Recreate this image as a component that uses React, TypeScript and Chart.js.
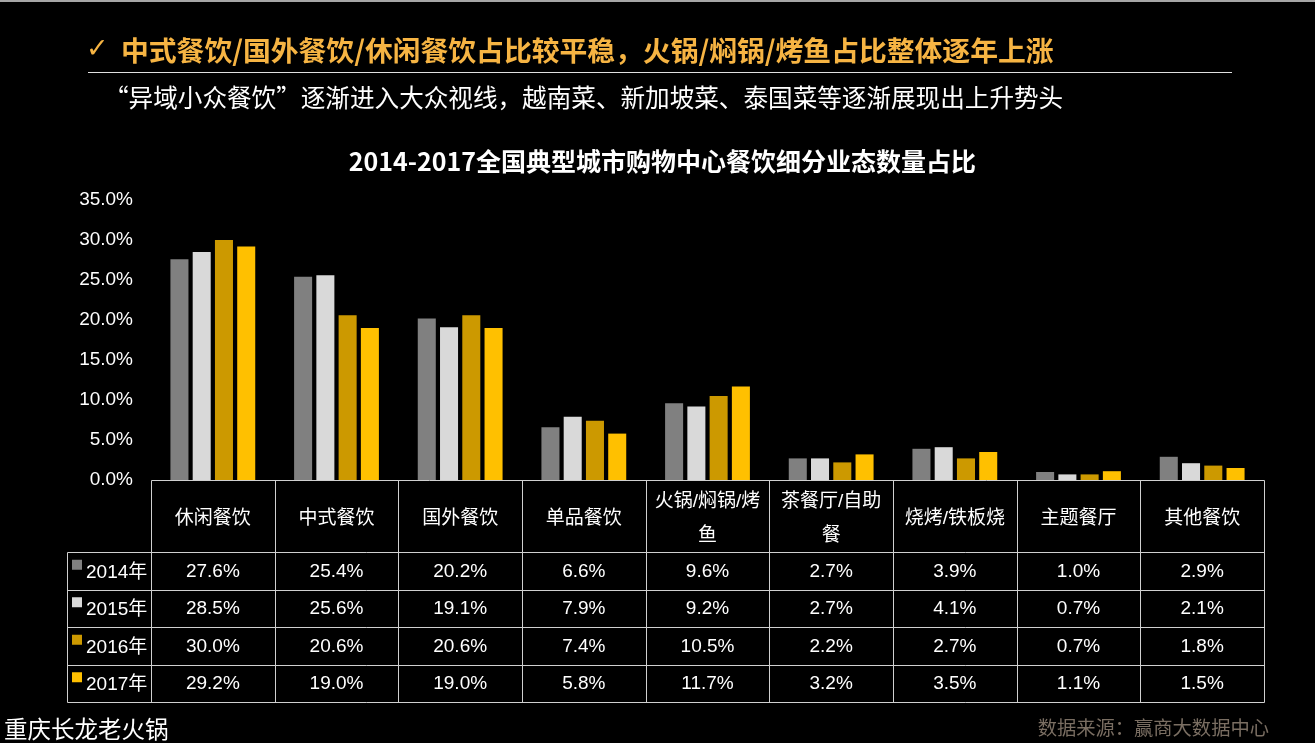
import { useEffect, useRef } from "react";
import { Chart, registerables } from "chart.js";

Chart.register(...registerables);

const categories = ["休闲餐饮", "中式餐饮", "国外餐饮", "单品餐饮", "火锅/焖锅/烤鱼", "茶餐厅/自助餐", "烧烤/铁板烧", "主题餐厅", "其他餐饮"];
const headerLines = [["休闲餐饮"], ["中式餐饮"], ["国外餐饮"], ["单品餐饮"], ["火锅/焖锅/烤", "鱼"], ["茶餐厅/自助", "餐"], ["烧烤/铁板烧"], ["主题餐厅"], ["其他餐饮"]];
const years = ["2014年", "2015年", "2016年", "2017年"];
const v2014 = [27.6, 25.4, 20.2, 6.6, 9.6, 2.7, 3.9, 1.0, 2.9];
const v2015 = [28.5, 25.6, 19.1, 7.9, 9.2, 2.7, 4.1, 0.7, 2.1];
const v2016 = [30.0, 20.6, 20.6, 7.4, 10.5, 2.2, 2.7, 0.7, 1.8];
const v2017 = [29.2, 19.0, 19.0, 5.8, 11.7, 3.2, 3.5, 1.1, 1.5];
const seriesValues = [v2014, v2015, v2016, v2017];
const colors = ["#808080", "#D9D9D9", "#CC9900", "#FFC000"];
const yMax = 35;
const yStep = 5;

const headline = "中式餐饮/国外餐饮/休闲餐饮占比较平稳，火锅/焖锅/烤鱼占比整体逐年上涨";
const subtitle = "“异域小众餐饮”逐渐进入大众视线，越南菜、新加坡菜、泰国菜等逐渐展现出上升势头";
const chartTitle = "2014-2017全国典型城市购物中心餐饮细分业态数量占比";
const footerLeft = "重庆长龙老火锅";
const footerRight = "数据来源：赢商大数据中心";

const FONT = '"Liberation Sans", Arial, "Noto Sans CJK SC", sans-serif';

const tablePlugin = {
  id: "dataTable",
  afterDraw(chart: any) {
    const ctx = chart.ctx as CanvasRenderingContext2D;
    const xs = chart.scales.x;
    const { left, right, bottom } = chart.chartArea;
    const n = categories.length;
    const w = (right - left) / n;
    const headerH = 72;
    const rowH = 37.5;
    const legendLeft = 67;
    const top = Math.round(bottom);
    const headerBottom = top + headerH;
    const tableBottom = headerBottom + rowH * years.length;
    const px = (v: number) => Math.round(v) + 0.5;

    ctx.save();
    ctx.strokeStyle = "#D0D0D0";
    ctx.lineWidth = 1;
    ctx.beginPath();
    ctx.moveTo(px(left), px(top));
    ctx.lineTo(px(right), px(top));
    for (let r = 0; r <= years.length; r++) {
      const y = px(headerBottom + r * rowH);
      ctx.moveTo(px(legendLeft), y);
      ctx.lineTo(px(right), y);
    }
    for (let i = 0; i <= n; i++) {
      const x = px(left + i * w);
      ctx.moveTo(x, px(top));
      ctx.lineTo(x, px(tableBottom));
    }
    ctx.moveTo(px(legendLeft), px(headerBottom));
    ctx.lineTo(px(legendLeft), px(tableBottom));
    ctx.stroke();

    ctx.fillStyle = "#FFFFFF";
    ctx.font = `19px ${FONT}`;
    ctx.textAlign = "center";
    ctx.textBaseline = "middle";
    for (let i = 0; i < n; i++) {
      const cx = xs.getPixelForValue(i);
      const lines = headerLines[i];
      const cy = top + headerH / 2 + 2.5;
      if (lines.length === 1) {
        ctx.fillText(lines[0], cx, cy);
      } else {
        ctx.fillText(lines[0], cx, cy - 17);
        ctx.fillText(lines[1], cx, cy + 17);
      }
    }
    for (let r = 0; r < years.length; r++) {
      const cy = headerBottom + r * rowH + rowH / 2 + 1;
      for (let i = 0; i < n; i++) {
        const cx = xs.getPixelForValue(i);
        ctx.fillText(seriesValues[r][i].toFixed(1) + "%", cx, cy);
      }
      ctx.fillStyle = colors[r];
      ctx.fillRect(legendLeft + 5, cy - 12, 10, 10);
      ctx.fillStyle = "#FFFFFF";
      ctx.textAlign = "left";
      ctx.fillText(years[r], legendLeft + 19, cy + 1);
      ctx.textAlign = "center";
    }
    ctx.restore();
  },
};

export default function App() {
  const canvasRef = useRef<HTMLCanvasElement | null>(null);

  useEffect(() => {
    document.body.style.margin = "0";
    document.body.style.background = "#000";
    const canvas = canvasRef.current;
    if (!canvas) return;
    const chart = new Chart(canvas, {
      type: "bar",
      data: {
        labels: categories,
        datasets: years.map((y, i) => ({
          label: y,
          data: seriesValues[i],
          backgroundColor: colors[i],
          borderWidth: 0,
          barPercentage: 0.81,
          categoryPercentage: 0.72,
        })),
      },
      options: {
        animation: false,
        responsive: false,
        maintainAspectRatio: false,
        layout: { padding: { left: 60, right: 51, top: 200, bottom: 263 } },
        plugins: {
          legend: { display: false },
          title: { display: false },
          tooltip: { enabled: false },
        },
        scales: {
          x: { display: false },
          y: {
            min: 0,
            max: yMax,
            afterFit: (scale: any) => {
              scale.width = 91;
            },
            grid: { display: false, drawTicks: false },
            border: { display: false },
            ticks: {
              stepSize: yStep,
              padding: 18,
              color: "#FFFFFF",
              font: { size: 19, family: FONT },
              callback: (v: any) => Number(v).toFixed(1) + "%",
            },
          },
        },
      },
      plugins: [tablePlugin],
    });
    return () => chart.destroy();
  }, []);

  const abs = (extra: any) => ({ position: "absolute" as const, whiteSpace: "nowrap" as const, ...extra });

  return (
    <div style={{ position: "fixed", left: 0, top: 0, width: 1315, height: 743, background: "#000", overflow: "hidden", fontFamily: '"Noto Sans CJK SC", sans-serif' }}>
      <canvas ref={canvasRef} width={1315} height={743} style={{ position: "absolute", left: 0, top: 0, width: 1315, height: 743 }} />
      <div style={abs({ left: 0, top: 0, width: 1315, height: 2, background: "#A6A6A6" })} />
      <div style={abs({ left: 86, top: 28, height: 40, lineHeight: "40px", fontSize: 27, color: "#F6B443", fontFamily: '"DejaVu Sans", sans-serif' })}>✓</div>
      <div style={abs({ left: 121, top: 29, height: 40, lineHeight: "40px", fontSize: 27.8, fontWeight: 700, color: "#F6B443" })}>{headline}</div>
      <div style={abs({ left: 88, top: 72, width: 1144, height: 1, background: "#E0E0E0" })} />
      <div style={abs({ left: 104, top: 76, height: 40, lineHeight: "40px", fontSize: 24.6, color: "#FFFFFF" })}>{subtitle}</div>
      <div style={abs({ left: 0, width: 1315, textAlign: "center", top: 140, height: 40, lineHeight: "40px", fontSize: 25, fontWeight: 700, color: "#FFFFFF", paddingLeft: 5 })}>{chartTitle}</div>
      <div style={abs({ left: 4, top: 708, height: 40, lineHeight: "40px", fontSize: 23.5, color: "#FFFFFF" })}>{footerLeft}</div>
      <div style={abs({ right: 46, top: 707, height: 40, lineHeight: "40px", fontSize: 19.3, color: "#7A6E62" })}>{footerRight}</div>
    </div>
  );
}
